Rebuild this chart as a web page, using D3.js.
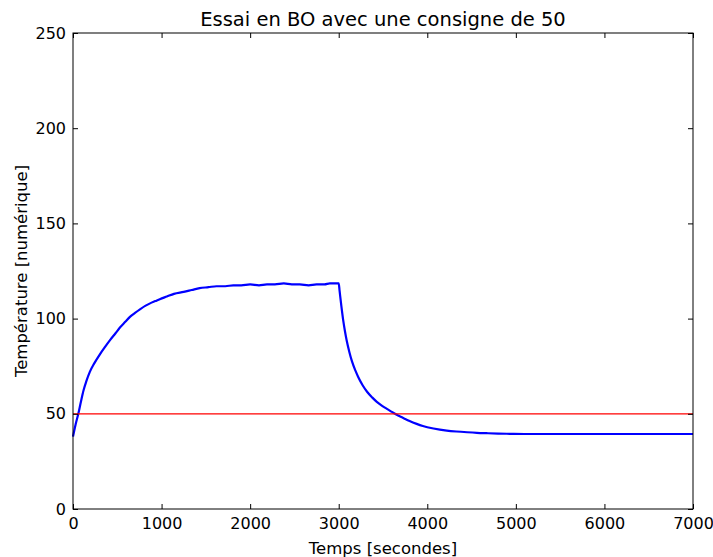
<!DOCTYPE html>
<html>
<head>
<meta charset="utf-8">
<script src="https://cdn.jsdelivr.net/npm/d3@7"></script>
<style>
  body { margin: 0; background: #fff; }
  text { font-family: "DejaVu Sans", sans-serif; }
</style>
</head>
<body>
<div id="chart"></div>
<script>
const temps = [0, 30, 60, 90, 120, 150, 190, 240, 300, 360, 420, 480, 530, 590, 640, 700, 760, 820, 870, 930,
  980, 1060, 1140, 1250, 1340, 1430, 1530, 1620, 1720, 1810, 1900, 2000, 2100, 2190, 2280, 2380, 2470, 2560,
  2660, 2750, 2840, 2900, 2960, 3000, 3010, 3030, 3050, 3070, 3090, 3120, 3150, 3190, 3220, 3270, 3320, 3380,
  3430, 3490, 3540, 3600, 3650, 3700, 3750, 3800, 3880, 3950, 4070, 4220, 4330, 4450, 4560, 4670, 4800,
  4930, 5100, 5400, 5700, 6000, 6300, 6600, 7000];
const temperature = [38, 44.5, 50, 56.5, 62.5, 67, 72, 76.5, 81, 85, 88.8, 92.3, 95.3, 98.3, 100.8, 103, 105, 106.8, 108, 109.2,
  110.2, 111.6, 113, 114, 115, 116, 116.5, 117, 117, 117.5, 117.5, 118, 117.5, 118, 118, 118.5, 118, 118,
  117.5, 118, 118, 118.5, 118.5, 118.5, 114.5, 106.5, 99.3, 93.5, 88.5, 82.5, 77.5, 72.5, 69.3, 65, 61.6, 58.5,
  56.3, 54.2, 52.7, 51, 49.6, 48.4, 47.3, 46.2, 44.7, 43.6, 42.3, 41.2, 40.7, 40.3, 40, 39.8, 39.6,
  39.5, 39.4, 39.4, 39.4, 39.4, 39.4, 39.4, 39.4];
const consigne = 50;
const xTicks = [0, 1000, 2000, 3000, 4000, 5000, 6000, 7000];
const yTicks = [0, 50, 100, 150, 200, 250];

const W = 713, H = 557;
const m = {left: 73, right: 20, top: 33, bottom: 48};
const iw = W - m.left - m.right, ih = H - m.top - m.bottom;

const svg = d3.select("#chart").append("svg")
  .attr("width", W)
  .attr("height", H);

const x = d3.scaleLinear().domain([0, 7000]).range([0, iw]);
const y = d3.scaleLinear().domain([0, 250]).range([ih, 0]);

const g = svg.append("g").attr("transform", "translate(" + m.left + "," + m.top + ")");

const data = temps.map((t, i) => ({t: t, v: temperature[i]}));

// courbe mesurée
g.append("path")
  .datum(data)
  .attr("fill", "none")
  .attr("stroke", "#0000ff")
  .attr("stroke-width", 2.2)
  .attr("d", d3.line().curve(d3.curveMonotoneX).x(d => x(d.t)).y(d => y(d.v)));

// consigne
g.append("line")
  .attr("x1", x(0)).attr("x2", x(7000))
  .attr("y1", y(consigne)).attr("y2", y(consigne))
  .attr("stroke", "#ff0000")
  .attr("stroke-width", 1.3);

// axes, ticks vers l'intérieur sur les 4 côtés
const fmt = d3.format("d");
const axBottom = g.append("g").attr("transform", "translate(0," + ih + ")")
  .call(d3.axisBottom(x).tickValues(xTicks).tickFormat(fmt).tickSizeInner(-5).tickSizeOuter(0).tickPadding(9));
const axLeft = g.append("g")
  .call(d3.axisLeft(y).tickValues(yTicks).tickFormat(fmt).tickSizeInner(-5).tickSizeOuter(0).tickPadding(7));
const axTop = g.append("g")
  .call(d3.axisTop(x).tickValues(xTicks).tickFormat("").tickSizeInner(-5).tickSizeOuter(0));
const axRight = g.append("g").attr("transform", "translate(" + iw + ",0)")
  .call(d3.axisRight(y).tickValues(yTicks).tickFormat("").tickSizeInner(-5).tickSizeOuter(0));

[axBottom, axLeft, axTop, axRight].forEach(a => {
  a.select(".domain").remove();
  a.selectAll("line").attr("stroke", "#000");
  a.selectAll("text").attr("font-size", 16).attr("fill", "#000")
    .attr("font-family", "DejaVu Sans, sans-serif");
});

g.append("rect")
  .attr("width", iw).attr("height", ih)
  .attr("fill", "none").attr("stroke", "#000").attr("stroke-width", 1);

svg.append("text")
  .attr("x", m.left + iw / 2).attr("y", 26)
  .attr("text-anchor", "middle")
  .attr("font-size", 19.5)
  .text("Essai en BO avec une consigne de 50");

svg.append("text")
  .attr("x", m.left + iw / 2).attr("y", 554)
  .attr("text-anchor", "middle")
  .attr("font-size", 16.5)
  .text("Temps [secondes]");

svg.append("text")
  .attr("transform", "translate(27," + (m.top + ih / 2) + ") rotate(-90)")
  .attr("text-anchor", "middle")
  .attr("font-size", 16.5)
  .text("Température [numérique]");
</script>
</body>
</html>
